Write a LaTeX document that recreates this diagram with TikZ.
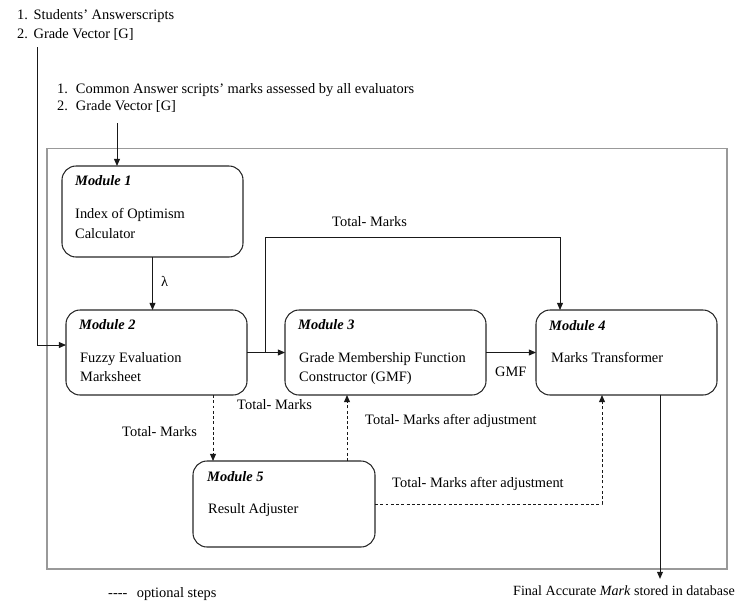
\documentclass[tikz,border=0pt]{standalone}
\usepackage{fontspec}
\setmainfont{Liberation Serif}
\usetikzlibrary{arrows.meta,positioning}
\begin{document}
\begin{tikzpicture}[x=0.03cm, y=-0.03cm,
  txt/.style={inner sep=0, anchor=west, text height=8.5pt, text depth=2.5pt, font=\fontsize{12.3pt}{14pt}\selectfont},
  modtitle/.style={txt, font=\fontsize{12.3pt}{14pt}\selectfont\bfseries\itshape},
  module/.style={draw=black!85, line width=0.9pt, rounded corners=12pt, inner sep=0, outer sep=0},
  arr/.style={draw=black!90, line width=0.8pt, -{Triangle[length=6pt,width=5pt]}},
  darr/.style={arr, dash pattern=on 2.5pt off 2pt},
  frame/.style={draw=black!40, line width=1.1pt}]
\useasboundingbox (0,0) rectangle (737,604);
\draw[frame] (47,148.5) rectangle (727,569);
\node[txt] (in1a) at (17,16){\makebox[14pt][l]{1.}Students’ Answerscripts};
\node[txt] (in1b) at (17,35){\makebox[14pt][l]{2.}Grade Vector [G]};
\node[txt] (in2a) at (57,90){\makebox[16pt][l]{1.}Common Answer scripts’ marks assessed by all evaluators};
\node[txt] (in2b) at (57,107){\makebox[16pt][l]{2.}Grade Vector [G]};
\node[module, minimum width=5.43cm, minimum height=2.73cm] (m1) at (152.5,211.5){};
\node[module, minimum width=5.43cm, minimum height=2.55cm] (m2) at (156.5,352.5){};
\node[module, minimum width=6.03cm, minimum height=2.55cm] (m3) at (385.5,352.5){};
\node[module, minimum width=5.43cm, minimum height=2.55cm] (m4) at (626.5,352.5){};
\node[module, minimum width=5.46cm, minimum height=2.58cm] (m5) at (284,504){};
\node[modtitle] (m1t) at ([shift={(13,16)}]m1.north west){Module 1};
\node[txt] (m1a) at ([shift={(13,49)}]m1.north west){Index of Optimism};
\node[txt] (m1b) at ([shift={(13,69)}]m1.north west){Calculator};
\node[modtitle] (m2t) at ([shift={(13,16)}]m2.north west){Module 2};
\node[txt] (m2a) at ([shift={(14,49)}]m2.north west){Fuzzy Evaluation};
\node[txt] (m2b) at ([shift={(14,68)}]m2.north west){Marksheet};
\node[modtitle] (m3t) at ([shift={(13,16)}]m3.north west){Module 3};
\node[txt] (m3a) at ([shift={(14,49)}]m3.north west){Grade Membership Function};
\node[txt] (m3b) at ([shift={(14,68)}]m3.north west){Constructor (GMF)};
\node[modtitle] (m4t) at ([shift={(13,17)}]m4.north west){Module 4};
\node[txt] (m4a) at ([shift={(15,49)}]m4.north west){Marks Transformer};
\node[modtitle] (m5t) at ([shift={(14,17)}]m5.north west){Module 5};
\node[txt] (m5a) at ([shift={(15,49)}]m5.north west){Result Adjuster};
\node[txt] (lam) at (161,283){λ};
\node[txt] (tm0) at (332,223){Total- Marks};
\node[txt] (gmf) at (495,373){GMF};
\node[txt] (tm1) at (122,433){Total- Marks};
\node[txt] (tm2) at (237,406){Total- Marks};
\node[txt] (tma1) at (365,421){Total- Marks after adjustment};
\node[txt] (tma2) at (392,484){Total- Marks after adjustment};
\node[txt] (opt) at (108,594){-{}-{}-{}-\hspace{8pt}optional steps};
\node[txt, font=\fontsize{12pt}{14pt}\selectfont] (fin) at (513,592){Final Accurate \textit{Mark} stored in database};
\coordinate (g1) at (37,47);
\coordinate (g2) at (117,123);
\coordinate (br) at (265,352.5);
\coordinate (t4) at (560,237);
\coordinate (d1) at ([xshift=1.695cm]m2.south);
\coordinate (d2) at ([xshift=1.89cm]m5.north);
\coordinate (d3) at ([xshift=-0.735cm]m4.south);
\coordinate (o4) at ([xshift=1.005cm]m4.south);
\draw[arr] (g1) |- ([yshift=0.225cm]m2.west);
\draw[arr] (g2) -- (g2 |- m1.north);
\draw[arr] (m1.south) -- (m1.south |- m2.north);
\draw[arr] (m2) -- (m3);
\draw[arr] (br) |- (t4) -- (t4 |- m4.north);
\draw[arr] (m3) -- (m4);
\draw[darr] (d1) -- (d1 |- m5.north);
\draw[darr] (d2) -- (d2 |- m3.south);
\draw[darr] (m5.east) -| (d3);
\draw[arr, shorten >=5.5pt] (o4) -- (o4 |- fin.north);
\end{tikzpicture}
\end{document}
